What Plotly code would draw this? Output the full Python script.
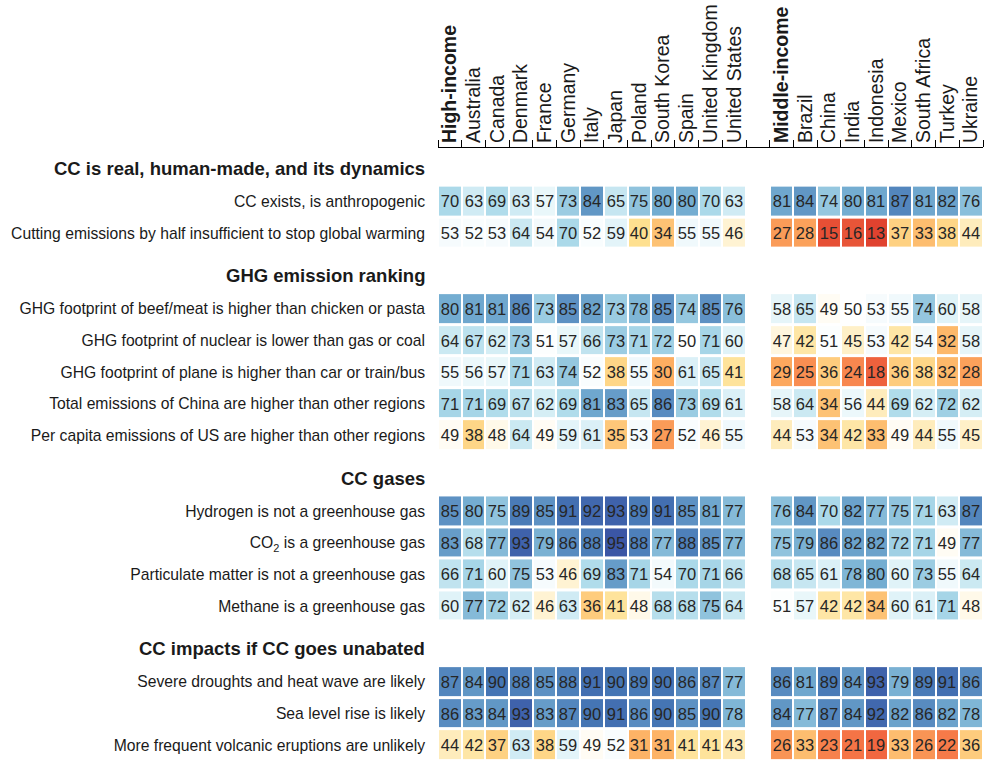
import plotly.graph_objects as go

high_income = ["High-income", "Australia", "Canada", "Denmark", "France", "Germany",
               "Italy", "Japan", "Poland", "South Korea", "Spain", "United Kingdom",
               "United States"]
middle_income = ["Middle-income", "Brazil", "China", "India", "Indonesia", "Mexico",
                 "South Africa", "Turkey", "Ukraine"]

group_titles = ["CC is real, human-made, and its dynamics", "GHG emission ranking",
                "CC gases", "CC impacts if CC goes unabated"]

dynamics_rows = ["CC exists, is anthropogenic",
                 "Cutting emissions by half insufficient to stop global warming"]
dynamics_high = [[70, 63, 69, 63, 57, 73, 84, 65, 75, 80, 80, 70, 63],
                 [53, 52, 53, 64, 54, 70, 52, 59, 40, 34, 55, 55, 46]]
dynamics_mid = [[81, 84, 74, 80, 81, 87, 81, 82, 76],
                [27, 28, 15, 16, 13, 37, 33, 38, 44]]

ranking_rows = ["GHG footprint of beef/meat is higher than chicken or pasta",
                "GHG footprint of nuclear is lower than gas or coal",
                "GHG footprint of plane is higher than car or train/bus",
                "Total emissions of China are higher than other regions",
                "Per capita emissions of US are higher than other regions"]
ranking_high = [[80, 81, 81, 86, 73, 85, 82, 73, 78, 85, 74, 85, 76],
                [64, 67, 62, 73, 51, 57, 66, 73, 71, 72, 50, 71, 60],
                [55, 56, 57, 71, 63, 74, 52, 38, 55, 30, 61, 65, 41],
                [71, 71, 69, 67, 62, 69, 81, 83, 65, 86, 73, 69, 61],
                [49, 38, 48, 64, 49, 59, 61, 35, 53, 27, 52, 46, 55]]
ranking_mid = [[58, 65, 49, 50, 53, 55, 74, 60, 58],
               [47, 42, 51, 45, 53, 42, 54, 32, 58],
               [29, 25, 36, 24, 18, 36, 38, 32, 28],
               [58, 64, 34, 56, 44, 69, 62, 72, 62],
               [44, 53, 34, 42, 33, 49, 44, 55, 45]]

gases_rows = ["Hydrogen is not a greenhouse gas",
              "CO<sub>2</sub> is a greenhouse gas",
              "Particulate matter is not a greenhouse gas",
              "Methane is a greenhouse gas"]
gases_high = [[85, 80, 75, 89, 85, 91, 92, 93, 89, 91, 85, 81, 77],
              [83, 68, 77, 93, 79, 86, 88, 95, 88, 77, 88, 85, 77],
              [66, 71, 60, 75, 53, 46, 69, 83, 71, 54, 70, 71, 66],
              [60, 77, 72, 62, 46, 63, 36, 41, 48, 68, 68, 75, 64]]
gases_mid = [[76, 84, 70, 82, 77, 75, 71, 63, 87],
             [75, 79, 86, 82, 82, 72, 71, 49, 77],
             [68, 65, 61, 78, 80, 60, 73, 55, 64],
             [51, 57, 42, 42, 34, 60, 61, 71, 48]]

impacts_rows = ["Severe droughts and heat wave are likely",
                "Sea level rise is likely",
                "More frequent volcanic eruptions are unlikely"]
impacts_high = [[87, 84, 90, 88, 85, 88, 91, 90, 89, 90, 86, 87, 77],
                [86, 83, 84, 93, 83, 87, 90, 91, 86, 90, 85, 90, 78],
                [44, 42, 37, 63, 38, 59, 49, 52, 31, 31, 41, 41, 43]]
impacts_mid = [[86, 81, 89, 84, 93, 79, 89, 91, 86],
               [84, 77, 87, 84, 92, 82, 86, 82, 78],
               [26, 33, 23, 21, 19, 33, 26, 22, 36]]

groups = [
    (group_titles[0], dynamics_rows, dynamics_high, dynamics_mid),
    (group_titles[1], ranking_rows, ranking_high, ranking_mid),
    (group_titles[2], gases_rows, gases_high, gases_mid),
    (group_titles[3], impacts_rows, impacts_high, impacts_mid),
]

FONT = "Liberation Sans, Arial, Helvetica, sans-serif"
GROUP_GAP = 1.4
HEADER_OFFSET = 1.05

# blank column between the two income groups
columns = high_income + [" "] + middle_income
col_labels = ["<b>%s</b>" % c if c.endswith("-income") else c for c in columns]

fig = go.Figure()
tickvals, ticktext, annotations = [], [], []
start = 0
for title, rows, hi, mid in groups:
    ys = [start + i for i in range(len(rows))]
    z = [h + [None] + m for h, m in zip(hi, mid)]
    txt = [["" if v is None else str(v) for v in r] for r in z]
    fig.add_trace(go.Heatmap(
        x=col_labels, y=ys, z=z, text=txt, texttemplate="%{text}",
        textfont=dict(size=16.5, color="#262626", family=FONT),
        coloraxis="coloraxis", xgap=2, ygap=3,
        hovertemplate="%{x}<br>%{z}<extra></extra>",
    ))
    tickvals += ys
    ticktext += rows
    annotations.append(dict(
        x=0, xref="paper", y=start - HEADER_OFFSET, yref="y",
        text="<b>%s</b>" % title, showarrow=False, xanchor="right",
        xshift=-11, font=dict(size=18.5, color="#1a1a1a", family=FONT),
    ))
    start += len(rows) + GROUP_GAP

rdylbu = ["#a50026", "#d73027", "#f46d43", "#fdae61", "#fee090", "#ffffff",
          "#e0f3f8", "#abd9e9", "#74add1", "#4575b4", "#313695"]

fig.update_layout(
    width=985, height=760,
    margin=dict(l=438, r=2, t=148, b=0),
    paper_bgcolor="white", plot_bgcolor="white",
    font=dict(family=FONT, color="#1a1a1a"),
    coloraxis=dict(cmin=0, cmax=100, showscale=False,
                   colorscale=[[i / 10, c] for i, c in enumerate(rdylbu)]),
    annotations=annotations,
    xaxis=dict(side="top", type="category", tickangle=-90, dtick=1,
               showline=True, linecolor="black", linewidth=1,
               ticks="outside", ticklen=7, tickcolor="black", tickson="boundaries",
               tickfont=dict(size=19.5, color="#1a1a1a"), showgrid=False,
               zeroline=False, fixedrange=True),
    yaxis=dict(range=[17.67, -1.69], tickvals=tickvals, ticktext=ticktext,
               tickfont=dict(size=15.7, color="#1a1a1a"), ticklabelstandoff=12,
               showgrid=False, zeroline=False, showline=False, ticks=""),
)

# page margin off so the figure sits at the window's top-left corner
fig.write_html("out.html", config={"displayModeBar": False},
               post_script="document.body.style.margin='0';")
